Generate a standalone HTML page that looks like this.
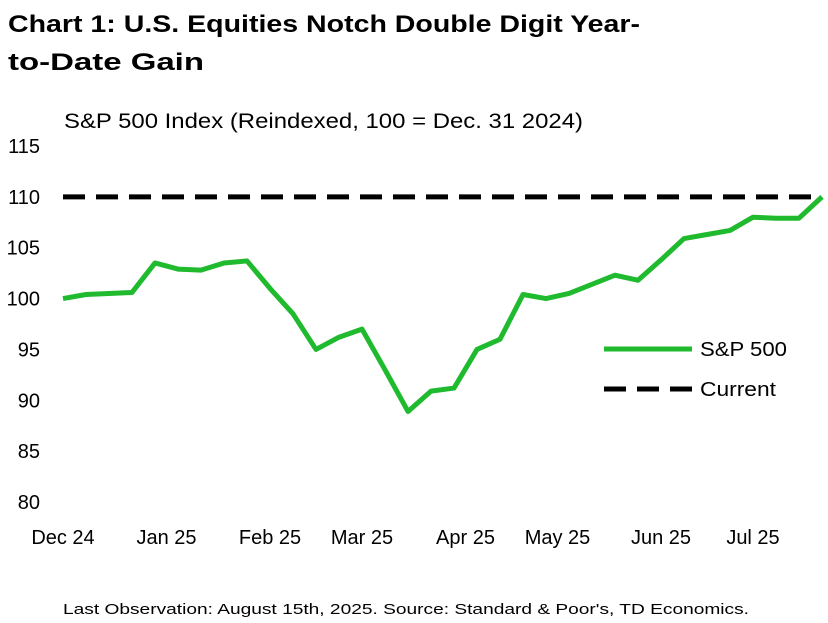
<!DOCTYPE html>
<html><head><meta charset="utf-8"><style>
body{margin:0;background:#fff;}
svg text{font-family:"Liberation Sans",sans-serif;fill:#000;}
</style></head><body>
<svg width="828" height="618">
<text x="8" y="32" font-size="24" font-weight="bold" textLength="632" lengthAdjust="spacingAndGlyphs">Chart 1: U.S. Equities Notch Double Digit Year-</text>
<text x="8" y="70" font-size="24" font-weight="bold" textLength="196" lengthAdjust="spacingAndGlyphs">to-Date Gain</text>
<text x="64" y="128" font-size="21" textLength="519" lengthAdjust="spacingAndGlyphs">S&amp;P 500 Index (Reindexed, 100 = Dec. 31 2024)</text>
<g id="yticks"></g><g id="xticks"></g><g id="plot"></g>
<line x1="604" y1="349" x2="692" y2="349" stroke="#1fba2e" stroke-width="5"/>
<text x="700" y="356" font-size="20" textLength="87" lengthAdjust="spacingAndGlyphs">S&amp;P 500</text>
<line x1="604" y1="389" x2="692" y2="389" stroke="#000" stroke-width="5" stroke-dasharray="22,11"/>
<text x="700" y="396" font-size="20" textLength="76" lengthAdjust="spacingAndGlyphs">Current</text>
<text x="63" y="614" font-size="15" textLength="686" lengthAdjust="spacingAndGlyphs">Last Observation: August 15th, 2025. Source: Standard &amp; Poor's, TD Economics.</text>
</svg>
<script>
const values=[100,100.4,100.5,100.6,103.5,102.9,102.8,103.5,103.7,101,98.5,95,96.2,97,93,88.9,90.9,91.2,95,96,100.4,100,100.5,101.4,102.3,101.8,103.8,105.9,106.3,106.7,108,107.9,107.9,110];
const current=110;
const yTicks=[80,85,90,95,100,105,110,115];
const xLabels=["Dec 24","Jan 25","Feb 25","Mar 25","Apr 25","May 25","Jun 25","Jul 25"];
const xLabelIdx=[0,4.5,9,13,17.5,21.5,26,30];
const NS="http://www.w3.org/2000/svg";
const y=v=>502-(v-80)*(356/35);
const x=i=>63+i*(822-63)/(values.length-1);
function mk(t,a,p){const e=document.createElementNS(NS,t);for(const k in a)e.setAttribute(k,a[k]);p.appendChild(e);return e;}
const yt=document.getElementById('yticks');
yTicks.forEach(v=>{const t=mk('text',{x:40,y:y(v)+7,'font-size':20,'text-anchor':'end'},yt);t.textContent=v;

});
const xt=document.getElementById('xticks');
xLabels.forEach((l,k)=>{const t=mk('text',{x:x(xLabelIdx[k]),y:544,'font-size':20,'text-anchor':'middle'},xt);t.textContent=l;

});
const p=document.getElementById('plot');
const d=mk('line',{x1:x(0),x2:x(values.length-1),y1:y(current),y2:y(current),stroke:'#000','stroke-width':5,'stroke-dasharray':'22,11'},p);


const s=mk('polyline',{points:values.map((v,i)=>x(i)+','+y(v)).join(' '),fill:'none',stroke:'#1fba2e','stroke-width':5,'stroke-linejoin':'round'},p);


</script>
</body></html>
